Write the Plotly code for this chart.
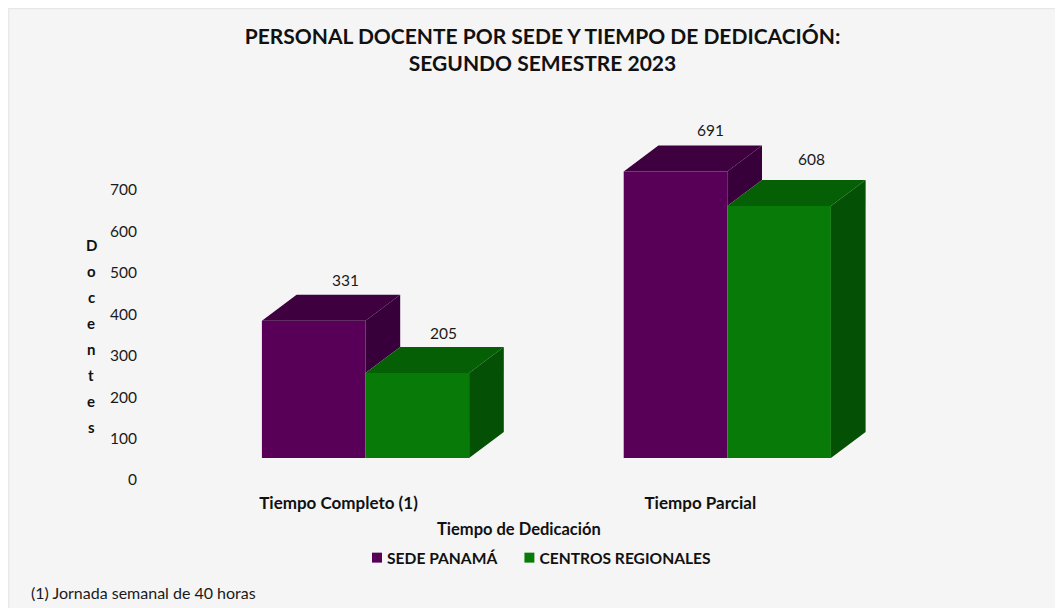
import plotly.graph_objects as go

categories = ["Tiempo Completo (1)", "Tiempo Parcial"]
sede_panama = [331, 691]
centros_regionales = [205, 608]
y_ticks = [0, 100, 200, 300, 400, 500, 600, 700]
y_letters = list("Docentes")

FONT = "Lato, Carlito, Calibri, sans-serif"
PX_X = 361.8          # px per category step
PX_Y = 0.4145         # px per docente
BAR_W = 103.6 / PX_X
DX = 34.7 / PX_X      # 3D depth in data units
DY = 26 / PX_Y

# figure placement (page has an 8 px body margin)
OX, OY = 8, 8
W, H = 1055, 600
L, R = 143, 895       # plot area in page px
BASE = 458
TOP = 110
X0 = 365.5            # page px of category 0

PURPLE = ("#580058", "#3f0040", "#38003a")
GREEN = ("#087a08", "#055f05", "#045004")

fig = go.Figure()
xs = list(range(len(categories)))

fig.add_trace(go.Bar(x=xs, y=sede_panama, width=BAR_W, offset=-BAR_W,
                     name="<b>SEDE PANAMÁ</b>", marker=dict(color=PURPLE[0], line=dict(width=0))))
fig.add_trace(go.Bar(x=xs, y=centros_regionales, width=BAR_W, offset=0,
                     name="<b>CENTROS REGIONALES</b>", marker=dict(color=GREEN[0], line=dict(width=0))))


def poly(px, py, color):
    fig.add_trace(go.Scatter(x=px + px[:1], y=py + py[:1], mode="lines", fill="toself",
                             fillcolor=color, line=dict(width=0), hoverinfo="skip",
                             showlegend=False))


for i, (a, b) in enumerate(zip(sede_panama, centros_regionales)):
    # purple top + visible part of its side (above the green top face)
    poly([i - BAR_W, i - BAR_W + DX, i + DX, i], [a, a + DY, a + DY, a], PURPLE[1])
    poly([i, i + DX, i + DX, i], [a, a + DY, b + DY, b], PURPLE[2])
    # green top + side
    poly([i, i + DX, i + BAR_W + DX, i + BAR_W], [b, b + DY, b + DY, b], GREEN[1])
    poly([i + BAR_W, i + BAR_W + DX, i + BAR_W + DX, i + BAR_W], [b, b + DY, DY, 0], GREEN[2])

annotations = []
label_nudge = {(0, 0): (-3, 4), (0, 1): (-9, 3), (1, 0): (0, 5), (1, 1): (-2, 10)}
for i, (a, b) in enumerate(zip(sede_panama, centros_regionales)):
    for j, v in enumerate((a, b)):
        cx = i + (j - 0.5) * BAR_W + DX
        annotations.append(dict(x=cx, y=v + DY, text=str(v), showarrow=False, yanchor="bottom",
                                xanchor="center",
                                xshift=label_nudge[(i, j)][0], yshift=label_nudge[(i, j)][1],
                                font=dict(family=FONT, size=15.5, color="#1a1a1a")))

for k, ch in enumerate(y_letters):
    annotations.append(dict(xref="paper", yref="paper", xanchor="center", yanchor="middle",
                            x=(91 - L) / (R - L),
                            y=(BASE - (245 + k * 26)) / (BASE - TOP),
                            text=f"<b>{ch}</b>", showarrow=False,
                            font=dict(family=FONT, size=15, color="#111111")))

annotations.append(dict(xref="paper", yref="paper", x=(519 - L) / (R - L),
                        y=(BASE - 529) / (BASE - TOP), xanchor="center", yanchor="middle",
                        text="<b>Tiempo de Dedicación</b>", showarrow=False,
                        font=dict(family=FONT, size=16.5, color="#111111")))

annotations.append(dict(xref="paper", yref="paper", x=(29 - L) / (R - L),
                        y=(BASE - 592) / (BASE - TOP), xanchor="left", yanchor="middle",
                        text="(1) Jornada semanal de 40 horas", showarrow=False,
                        font=dict(family=FONT, size=16, color="#1a1a1a")))


def px_x(p):
    return (p - L) / (R - L)


def px_y(p):
    return (BASE - p) / (BASE - TOP)


edge = dict(color="#e8e8e8", width=1.5)
shapes = [
    dict(type="line", xref="paper", yref="paper", x0=px_x(8.5), x1=px_x(8.5), y0=px_y(8), y1=px_y(608), line=edge),
    dict(type="line", xref="paper", yref="paper", x0=px_x(8), x1=px_x(1063), y0=px_y(8.5), y1=px_y(8.5), line=edge),
]

fig.update_layout(
    width=W, height=H,
    margin=dict(l=L - OX, r=OX + W - R, t=TOP - OY, b=OY + H - BASE, pad=0, autoexpand=False),
    paper_bgcolor="#f5f5f5", plot_bgcolor="rgba(0,0,0,0)",
    font=dict(family=FONT, color="#111111"),
    barmode="overlay",
    title=dict(text="<b>PERSONAL DOCENTE POR SEDE Y TIEMPO DE DEDICACIÓN:<br>SEGUNDO SEMESTRE 2023</b>",
               x=(542.5 - OX) / W, xanchor="center", y=1 - (44 - OY) / H, yanchor="top",
               font=dict(family=FONT, size=21, color="#111111")),
    xaxis=dict(range=[(L - X0) / PX_X, (R - X0) / PX_X], tickvals=xs,
               ticktext=[f"<b>{c}</b>" for c in categories],
               tickfont=dict(family=FONT, size=17, color="#111111"),
               showgrid=False, zeroline=False, showline=False, ticks="", automargin=False,
               ticklabelshift=-27, ticklabelstandoff=33),
    yaxis=dict(range=[0, (BASE - TOP) / PX_Y], tickvals=y_ticks,
               tickfont=dict(family=FONT, size=15.5, color="#1a1a1a"),
               showgrid=False, zeroline=False, showline=False, ticks="", automargin=False,
               ticklabelshift=22, ticklabelstandoff=5),
    legend=dict(orientation="h", x=(347 - OX) / W, xref="container", y=1 - (558 - OY) / H, yref="container",
                yanchor="middle", xanchor="left", bgcolor="rgba(0,0,0,0)",
                font=dict(family=FONT, size=15.6, color="#111111"), traceorder="normal",
                itemclick=False, itemdoubleclick=False),
    annotations=annotations,
    shapes=shapes,
    showlegend=True,
)

post = """
document.body.style.marginBottom='0';
document.documentElement.style.overflow='hidden';
document.querySelectorAll('.legend .traces .legendsymbols').forEach(function(g){
  g.style.transform='translate(30px,0) scale(.83) translate(-20px,0)';
});
var t=document.querySelectorAll('.legend .traces');
if(t.length>1){t[1].setAttribute('transform',(t[1].getAttribute('transform')||'')+' translate(-3,0)');}
"""
fig.write_html("out.html", config={"displayModeBar": False}, post_script=post)
